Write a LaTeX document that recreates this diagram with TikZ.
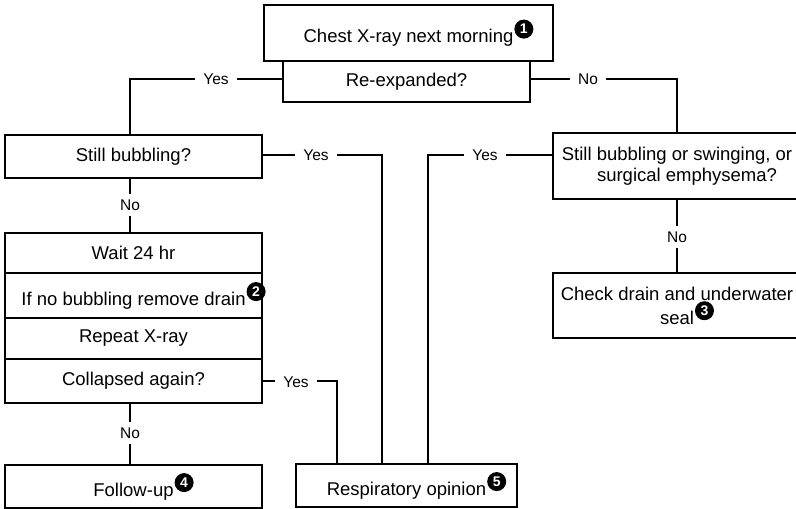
\documentclass[tikz,border=0pt]{standalone}
\usepackage{fontspec}
\setmainfont{Liberation Sans}
\usepackage{pict2e}
% black disc with a white numeral, set just after the text without taking width
\newcommand\numbadge[1]{\rlap{\hspace{1pt}\setlength{\unitlength}{1pt}%
  \begin{picture}(19,23)%
    \put(9.5,13.5){\circle*{19}}%
    \put(9.5,13.5){\makebox(0,0){\color{white}\fontsize{14}{14}\selectfont\bfseries #1}}%
  \end{picture}}}
\begin{document}
\begin{tikzpicture}[x=1pt,y=-1pt,
  font=\fontsize{18.5}{21}\selectfont,
  box/.style={draw,rectangle,line width=2pt,inner sep=0pt,align=center},
  conn/.style={line width=2pt},
  lbl/.style={fill=white,inner xsep=8pt,inner ysep=6pt,font=\fontsize{15.5}{15.5}\selectfont}]
\useasboundingbox (0,0) rectangle (796,509);
\clip (0,0) rectangle (796,509);

% column positions of the vertical runs
\coordinate (lcol) at (130,0);
\coordinate (rA) at (337,0);
\coordinate (rB) at (382,0);
\coordinate (rC) at (428,0);

% boxes
\node[box,minimum width=289pt,minimum height=56pt] (chest) at (408.5,33) {Chest X-ray next morning\numbadge{1}};
\node[box,minimum width=247pt,minimum height=41pt] (reexp) at (406.5,81.5) {Re-expanded?};
\node[box,minimum width=257pt,minimum height=43pt] (stillL) at (133.5,156.5) {Still bubbling?};
\node[box,minimum width=248pt,minimum height=66pt] (rightQ) at (677,166) {Still bubbling or swinging, or\\\hspace*{20pt}surgical emphysema?};
\node[box,minimum width=257pt,minimum height=40pt] (wait) at (133.5,253) {Wait 24 hr};
\node[box,minimum width=257pt,minimum height=45pt] (ifno) at (133.5,295.5) {If no bubbling remove drain\numbadge{2}};
\node[box,minimum width=257pt,minimum height=41pt] (repeat) at (133.5,338.5) {Repeat X-ray};
\node[box,minimum width=257pt,minimum height=44pt] (collapsed) at (133.5,381) {Collapsed again?};
\node[box,minimum width=248pt,minimum height=65pt] (check) at (677,305.5) {Check drain and underwater\\seal\numbadge{3}};
\node[box,minimum width=257pt,minimum height=43pt] (follow) at (133.5,486.5) {Follow-up\numbadge{4}};
\node[box,minimum width=221pt,minimum height=43pt] (resp) at (406.5,485.5) {Respiratory opinion\numbadge{5}};

% connectors
\draw[conn] ([yshift=2.5pt]reexp.west) -| (lcol |- stillL.north);
\draw[conn] ([yshift=2.5pt]reexp.east) -| (rightQ.north);
\draw[conn] ([yshift=1.5pt]stillL.east) -| (rB |- resp.north);
\draw[conn] ([yshift=11pt]rightQ.west) -| (rC |- resp.north);
\draw[conn] (collapsed.east) -| (rA |- resp.north);
\draw[conn] (lcol |- stillL.south) -- (lcol |- wait.north);
\draw[conn] (lcol |- collapsed.south) -- (lcol |- follow.north);
\draw[conn] (rightQ.south) -- (check.north);

% branch labels
\node[lbl] (yes1) at (216,79) {Yes};
\node[lbl] (no1) at (588,79) {No};
\node[lbl] (yes2) at (316,155) {Yes};
\node[lbl] (yes3) at (485,155) {Yes};
\node[lbl] (no2) at (130,205) {No};
\node[lbl] (no3) at (677,237) {No};
\node[lbl] (yes4) at (296,382) {Yes};
\node[lbl] (no4) at (130,433) {No};
\end{tikzpicture}
\end{document}
